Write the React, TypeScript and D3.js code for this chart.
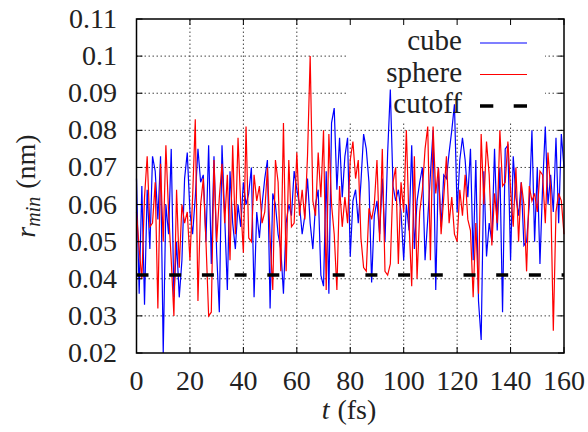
import React from "react";
import * as d3 from "d3";

// time step 1 fs, t = 0..160
const cube: number[] = [
  0.067, 0.036, 0.065, 0.033, 0.064, 0.048, 0.073, 0.069, 0.056, 0.073,
  0.020, 0.060, 0.052, 0.075, 0.035, 0.050, 0.035, 0.045, 0.067, 0.074,
  0.058, 0.052, 0.062, 0.075, 0.066, 0.068, 0.050, 0.076, 0.044, 0.073,
  0.047, 0.031, 0.076, 0.057, 0.037, 0.069, 0.055, 0.048, 0.060, 0.054,
  0.066, 0.060, 0.063, 0.070, 0.035, 0.058, 0.051, 0.060, 0.067, 0.072,
  0.032, 0.063, 0.060, 0.052, 0.048, 0.036, 0.055, 0.060, 0.057, 0.069,
  0.064, 0.060, 0.052, 0.057, 0.067, 0.055, 0.048, 0.060, 0.064, 0.041,
  0.038, 0.069, 0.036, 0.082, 0.086, 0.064, 0.078, 0.062, 0.073, 0.078,
  0.046, 0.061, 0.064, 0.055, 0.066, 0.079, 0.075, 0.066, 0.039, 0.057,
  0.061, 0.052, 0.067, 0.050, 0.074, 0.091, 0.065, 0.061, 0.064, 0.058,
  0.045, 0.060, 0.053, 0.076, 0.048, 0.061, 0.066, 0.070, 0.045, 0.056,
  0.068, 0.080, 0.037, 0.070, 0.054, 0.068, 0.067, 0.074, 0.080, 0.087,
  0.058, 0.072, 0.078, 0.072, 0.062, 0.075, 0.045, 0.072, 0.034, 0.0235,
  0.069, 0.046, 0.055, 0.050, 0.075, 0.053, 0.070, 0.031, 0.075, 0.076,
  0.045, 0.073, 0.062, 0.057, 0.066, 0.049, 0.050, 0.060, 0.080, 0.050,
  0.070, 0.044, 0.065, 0.081, 0.060, 0.068, 0.058, 0.078, 0.055, 0.079,
  0.070,
];

const sphere: number[] = [
  0.058, 0.048, 0.040, 0.062, 0.073, 0.054, 0.055, 0.066, 0.032, 0.071,
  0.050, 0.076, 0.058, 0.045, 0.030, 0.064, 0.043, 0.060, 0.055, 0.058,
  0.045, 0.062, 0.083, 0.034, 0.060, 0.067, 0.050, 0.030, 0.031, 0.072,
  0.050, 0.062, 0.071, 0.055, 0.068, 0.045, 0.076, 0.052, 0.078, 0.060,
  0.047, 0.081, 0.051, 0.050, 0.068, 0.061, 0.065, 0.055, 0.058, 0.070,
  0.051, 0.037, 0.072, 0.066, 0.042, 0.082, 0.042, 0.072, 0.054, 0.055,
  0.074, 0.057, 0.064, 0.056, 0.073, 0.100, 0.061, 0.057, 0.074, 0.062,
  0.080, 0.037, 0.079, 0.060, 0.052, 0.037, 0.065, 0.054, 0.062, 0.055,
  0.072, 0.077, 0.067, 0.072, 0.051, 0.043, 0.042, 0.059, 0.056, 0.060,
  0.072, 0.050, 0.075, 0.042, 0.041, 0.044, 0.066, 0.070, 0.044, 0.066,
  0.058, 0.080, 0.055, 0.038, 0.073, 0.040, 0.058, 0.064, 0.075, 0.081,
  0.045, 0.081, 0.063, 0.070, 0.052, 0.062, 0.073, 0.055, 0.062, 0.052,
  0.050, 0.064, 0.057, 0.068, 0.056, 0.053, 0.035, 0.055, 0.036, 0.079,
  0.060, 0.077, 0.068, 0.049, 0.063, 0.055, 0.080, 0.065, 0.066, 0.077,
  0.064, 0.054, 0.070, 0.050, 0.066, 0.060, 0.042, 0.065, 0.061, 0.063,
  0.058, 0.069, 0.068, 0.055, 0.074, 0.064, 0.026, 0.058, 0.063, 0.061,
  0.052,
];

const cutoffValue = 0.041;
const timeStep = 1;

const xTicks = [0, 20, 40, 60, 80, 100, 120, 140, 160];
const xTickLabels = ["0", "20", "40", "60", "80", "100", "120", "140", "160"];
const yTicks = [0.02, 0.03, 0.04, 0.05, 0.06, 0.07, 0.08, 0.09, 0.1, 0.11];
const yTickLabels = ["0.02", "0.03", "0.04", "0.05", "0.06", "0.07", "0.08", "0.09", "0.1", "0.11"];
const legendLabels = ["cube", "sphere", "cutoff"];

const W = 588;
const H = 432;
const L = 136.5;
const R = 564;
const T = 19;
const B = 353;
const FONT = '"Liberation Serif", "DejaVu Serif", "Times New Roman", serif';
const FS = 28;

const txt: React.CSSProperties = { fontFamily: FONT };

export default function App() {
  const x = d3.scaleLinear().domain([0, 160]).range([L, R]);
  const y = d3.scaleLinear().domain([0.02, 0.11]).range([B, T]);
  const line = d3
    .line<number>()
    .x((_, i) => x(i * timeStep))
    .y((d) => y(d));

  const legendX0 = 480;
  const legendX1 = 527;
  const legendTextX = 462;
  const legendBase = [50, 81.5, 113];

  return (
    <svg
      width={W}
      height={H}
      style={{ position: "absolute", left: 0, top: 0, background: "#fff", fontFamily: FONT }}
    >
      <rect x={0} y={0} width={W} height={H} fill="#fff" />
      {xTicks.slice(1, -1).map((t) => (
        <line
          key={"gx" + t}
          x1={x(t)}
          x2={x(t)}
          y1={B}
          y2={T}
          stroke="#444"
          strokeWidth={1}
          strokeDasharray="1.5,2.5"
        />
      ))}
      {yTicks.slice(1, -1).map((v) => (
        <line
          key={"gy" + v}
          x1={L}
          x2={R}
          y1={y(v)}
          y2={y(v)}
          stroke="#444"
          strokeWidth={1}
          strokeDasharray="1.5,2.5"
        />
      ))}
      <rect x={347} y={T + 1} width={198} height={103} fill="#fff" />
      <path d={line(cube) || ""} fill="none" stroke="#0000ff" strokeWidth={1.2} />
      <path d={line(sphere) || ""} fill="none" stroke="#ff0000" strokeWidth={1.2} />
      <line
        x1={x(0)}
        x2={x(160)}
        y1={y(cutoffValue)}
        y2={y(cutoffValue)}
        stroke="#000"
        strokeWidth={3.5}
        strokeDasharray="12,20.7"
      />
      {xTicks.map((t) => (
        <g key={"tx" + t}>
          <line x1={x(t)} x2={x(t)} y1={B} y2={B - 6} stroke="#000" strokeWidth={1} />
          <line x1={x(t)} x2={x(t)} y1={T} y2={T + 6} stroke="#000" strokeWidth={1} />
        </g>
      ))}
      {yTicks.map((v) => (
        <g key={"ty" + v}>
          <line x1={L} x2={L + 6} y1={y(v)} y2={y(v)} stroke="#000" strokeWidth={1} />
          <line x1={R} x2={R - 6} y1={y(v)} y2={y(v)} stroke="#000" strokeWidth={1} />
        </g>
      ))}
      <rect x={L} y={T} width={R - L} height={B - T} fill="none" stroke="#000" strokeWidth={1.5} />
      {xTicks.map((t, i) => (
        <text key={"lx" + t} x={x(t)} y={390} textAnchor="middle" fontSize={FS} fill="#222" style={txt}>
          {xTickLabels[i]}
        </text>
      ))}
      {yTicks.map((v, i) => (
        <text key={"ly" + v} x={117} y={y(v) + 9} textAnchor="end" fontSize={FS} fill="#222" style={txt}>
          {yTickLabels[i]}
        </text>
      ))}
      <text x={349} y={419} textAnchor="middle" fontSize={FS} fill="#222" style={txt}>
        <tspan fontStyle="italic">t</tspan>
        <tspan dx={8}>(fs)</tspan>
      </text>
      <text
        transform={`translate(35, ${(T + B) / 2}) rotate(-90)`}
        textAnchor="middle"
        fontSize={FS}
        fill="#222"
        style={txt}
      >
        <tspan fontStyle="italic">r</tspan>
        <tspan fontStyle="italic" fontSize={20} dy={5}>min</tspan>
        <tspan dy={-5} dx={8}>(nm)</tspan>
      </text>
      {legendLabels.map((lab, i) => (
        <text key={lab} x={legendTextX} y={legendBase[i]} textAnchor="end" fontSize={FS + 1} fill="#222" style={txt}>
          {lab}
        </text>
      ))}
      <line x1={legendX0} x2={legendX1} y1={legendBase[0] - 7} y2={legendBase[0] - 7} stroke="#0000ff" strokeWidth={1.2} />
      <line x1={legendX0} x2={legendX1} y1={legendBase[1] - 7} y2={legendBase[1] - 7} stroke="#ff0000" strokeWidth={1.2} />
      <line
        x1={legendX0}
        x2={legendX1}
        y1={legendBase[2] - 7}
        y2={legendBase[2] - 7}
        stroke="#000"
        strokeWidth={3.5}
        strokeDasharray="13.3,20.4"
      />
    </svg>
  );
}
